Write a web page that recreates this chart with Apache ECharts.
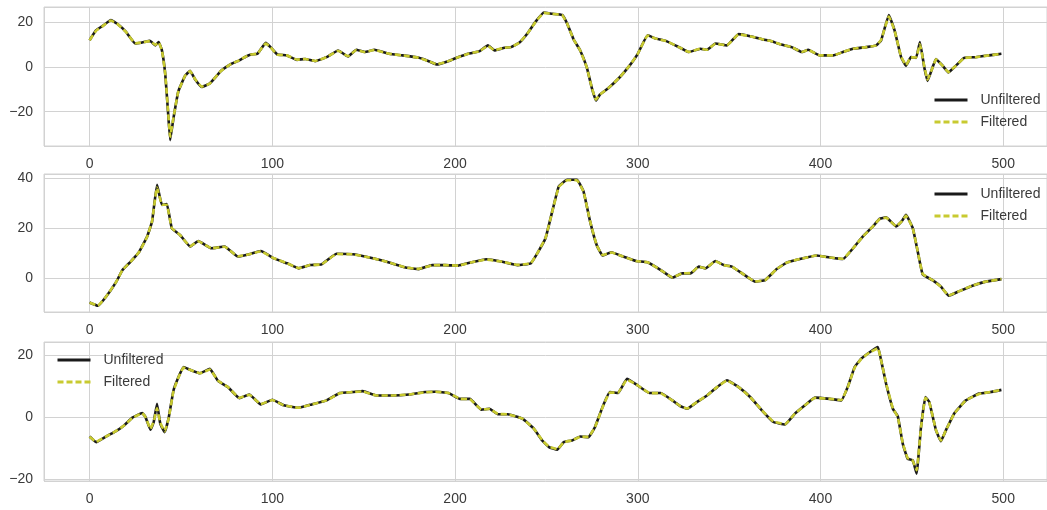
<!DOCTYPE html>
<html>
<head>
<meta charset="utf-8">
<script src="https://cdn.jsdelivr.net/npm/echarts@6/dist/echarts.min.js"></script>
<style>
html,body{margin:0;padding:0;background:#fff;}
#chart{width:1047px;height:510px;}
</style>
</head>
<body>
<div id="chart"></div>
<script>
// ---- data ([x, value] samples) ----
const xTicks = [0, 100, 200, 300, 400, 500];
const yTicks1 = [-20, 0, 20];
const yTicks2 = [0, 20, 40];
const yTicks3 = [-20, 0, 20];
const seriesNames = ['Unfiltered', 'Filtered'];

const unfiltered1 = [[0,12],[3.6,16.5],[7,18.3],[11.7,21],[15.3,19.2],[19.8,15.8],[25,10.5],[28.8,11],[33,11.7],[36,9.7],[37.8,11.2],[39.6,7.4],[41.4,-3.2],[42.9,-19.8],[44.1,-32.7],[45.9,-22.9],[48.6,-10.8],[52.3,-3.9],[55,-1.7],[57.7,-5.5],[61.3,-8.9],[65.8,-7.4],[72,-1.7],[77.5,1.4],[81,2.6],[85.6,4.7],[88.3,5.6],[91.9,5.9],[96.4,10.8],[99,8.9],[102.7,5.6],[108,5.2],[113.5,3.2],[118,3.6],[123.4,2.6],[129.7,4.4],[136,7.4],[141.4,4.7],[146,7.7],[150.5,6.7],[155.9,7.7],[164,5.9],[171.2,5.2],[180.2,4.1],[185.6,2.6],[190.1,1.1],[194.6,2.1],[200.9,4.1],[207.2,5.9],[213.5,7.1],[218,9.7],[221.6,7.4],[227,8.6],[230.6,8.9],[235.1,10.8],[239.6,15],[244.1,20.3],[248.6,24.4],[253.2,23.8],[258.6,23.3],[261.3,19.5],[264.9,12.3],[268.5,7.4],[272.1,-0.2],[274.8,-9.2],[277.1,-15],[279.3,-12.3],[283.8,-9.5],[290,-4.7],[295.5,0.6],[300,5.9],[305.4,14.2],[309.9,12.7],[315.3,11.7],[322.5,8.9],[328,6.7],[334.3,8.2],[337.9,7.7],[342.5,10.5],[348.8,9.7],[355.2,14.7],[361.5,13.8],[368.8,12.3],[372.4,11.7],[377.9,10.2],[384.2,8.9],[389.7,6.7],[393.3,7.7],[399.6,5.2],[406.9,5.2],[412.3,6.7],[417.8,8.2],[425,8.9],[430.5,9.7],[433.2,12],[437.4,23.3],[440.5,16.5],[444.1,4.4],[446.8,0.6],[449.5,4.4],[452.3,4.1],[454.4,11.2],[456.8,-0.2],[458.6,-6.2],[461.3,-0.2],[463.2,3.6],[466.8,0.6],[470,-2.4],[474.1,0.6],[478.6,4.1],[485,4.4],[492.2,5.2],[499,5.9]];
const filtered1 = [[0,12],[3.6,16.3],[7,18.2],[11.7,20.8],[15.3,19.2],[19.8,15.8],[25,10.6],[28.8,11],[33,11.6],[36,9.9],[37.8,11],[39.6,7.4],[41.4,-3],[42.9,-19.2],[44.1,-31.2],[45.9,-22.6],[48.6,-10.8],[52.3,-3.9],[55,-1.8],[57.7,-5.4],[61.3,-8.8],[65.8,-7.4],[72,-1.7],[77.5,1.4],[81,2.6],[85.6,4.7],[88.3,5.6],[91.9,6],[96.4,10.5],[99,8.9],[102.7,5.6],[108,5.2],[113.5,3.3],[118,3.6],[123.4,2.7],[129.7,4.4],[136,7.3],[141.4,4.8],[146,7.6],[150.5,6.7],[155.9,7.6],[164,5.9],[171.2,5.2],[180.2,4.1],[185.6,2.6],[190.1,1.2],[194.6,2.1],[200.9,4.1],[207.2,5.9],[213.5,7.1],[218,9.5],[221.6,7.5],[227,8.6],[230.6,8.9],[235.1,10.8],[239.6,15],[244.1,20.2],[248.6,24.2],[253.2,23.8],[258.6,23.2],[261.3,19.5],[264.9,12.3],[268.5,7.4],[272.1,-0.2],[274.8,-9.1],[277.1,-14.6],[279.3,-12.3],[283.8,-9.5],[290,-4.7],[295.5,0.6],[300,5.9],[305.4,14.1],[309.9,12.7],[315.3,11.7],[322.5,8.9],[328,6.7],[334.3,8.2],[337.9,7.7],[342.5,10.4],[348.8,9.7],[355.2,14.6],[361.5,13.8],[368.8,12.3],[372.4,11.7],[377.9,10.2],[384.2,8.9],[389.7,6.8],[393.3,7.6],[399.6,5.2],[406.9,5.2],[412.3,6.7],[417.8,8.2],[425,8.9],[430.5,9.7],[433.2,12.2],[437.4,22.6],[440.5,16.4],[444.1,4.6],[446.8,0.9],[449.5,4.3],[452.3,4.3],[454.4,10.2],[456.8,0.2],[458.6,-5.6],[461.3,-0.3],[463.2,3.4],[466.8,0.6],[470,-2.3],[474.1,0.6],[478.6,4],[485,4.4],[492.2,5.2],[499,5.9]];

const unfiltered2 = [[0,-9.6],[4.5,-10.9],[9,-7.3],[14.4,-1.6],[18,3.3],[22.5,6.7],[27,10.4],[31.5,16.7],[34.2,22.7],[36.9,37.3],[39.6,29.3],[42.3,29.6],[45,20],[49.5,17.3],[55,12.7],[59.5,14.9],[66.7,12],[73.9,12.7],[81.1,8.7],[87.4,9.6],[93.7,10.9],[100.9,8],[108.1,6],[114.4,4],[120.7,5.3],[127,5.6],[135.1,9.8],[144.1,9.6],[153.2,8.3],[162.2,6.7],[173,4.3],[180.2,3.7],[187.4,5.3],[194.6,5.3],[201.8,5.1],[209,6.4],[217.1,7.6],[225.2,6.7],[234.2,5.3],[241.4,6],[245,10],[249.5,16],[253.2,26.7],[256.8,36.7],[261.3,39.3],[266.7,39.3],[270.3,34.7],[273.9,22.7],[277.5,13.3],[280.7,9.1],[285.6,10.4],[291.9,8.7],[299.1,6.9],[305.4,6.4],[312.6,3.3],[318.9,0.3],[324.3,2],[328.9,2],[333.4,4.7],[337,4],[342.5,6.9],[347,5.3],[351.5,4.7],[357.9,1.6],[364.2,-1.3],[369.7,-0.7],[376,3.7],[381.5,6.3],[388.7,7.7],[397.8,9.1],[405.1,8.3],[412.3,7.7],[417.8,12],[423.2,16.7],[428.7,20.7],[432.3,23.7],[435.9,24.3],[441.4,20.7],[444.6,22.9],[446.8,25.3],[450.5,20],[453.2,10.7],[455.9,1.6],[461.3,-0.7],[465.9,-3.3],[470.1,-6.9],[475.9,-5.1],[483.1,-2.9],[490.4,-1.3],[499,-0.3]];
const filtered2 = [[0,-9.7],[4.5,-10.8],[9,-7.3],[14.4,-1.6],[18,3.3],[22.5,6.7],[27,10.4],[31.5,16.6],[34.2,22.9],[36.9,36.2],[39.6,29.4],[42.3,29.3],[45,20.1],[49.5,17.3],[55,12.8],[59.5,14.8],[66.7,12],[73.9,12.6],[81.1,8.8],[87.4,9.6],[93.7,10.8],[100.9,8],[108.1,6],[114.4,4.1],[120.7,5.3],[127,5.6],[135.1,9.7],[144.1,9.6],[153.2,8.3],[162.2,6.7],[173,4.3],[180.2,3.8],[187.4,5.2],[194.6,5.3],[201.8,5.1],[209,6.4],[217.1,7.5],[225.2,6.7],[234.2,5.4],[241.4,6],[245,10],[249.5,16.1],[253.2,26.6],[256.8,36.5],[261.3,39.1],[266.7,39.1],[270.3,34.6],[273.9,22.8],[277.5,13.3],[280.7,9.3],[285.6,10.3],[291.9,8.7],[299.1,6.9],[305.4,6.4],[312.6,3.3],[318.9,0.4],[324.3,2],[328.9,2.1],[333.4,4.6],[337,4.1],[342.5,6.8],[347,5.3],[351.5,4.7],[357.9,1.6],[364.2,-1.2],[369.7,-0.7],[376,3.7],[381.5,6.3],[388.7,7.7],[397.8,9.1],[405.1,8.3],[412.3,7.8],[417.8,12],[423.2,16.7],[428.7,20.7],[432.3,23.6],[435.9,24.2],[441.4,20.8],[444.6,22.8],[446.8,25],[450.5,20],[453.2,10.8],[455.9,1.8],[461.3,-0.7],[465.9,-3.3],[470.1,-6.8],[475.9,-5.1],[483.1,-2.9],[490.4,-1.3],[499,-0.3]];

const unfiltered3 = [[0,-6.3],[3.6,-8.1],[9,-6.3],[13.5,-4.9],[18.9,-2.7],[23.4,-0.2],[28.8,1.3],[30.6,0],[33.3,-4.1],[35.1,-1.6],[36.9,4.3],[38.7,-2.2],[41.1,-4.9],[43.2,-0.5],[45.9,8.6],[48.6,12.9],[51.4,16.2],[55,15.3],[60.4,14.2],[65.8,15.6],[70.3,11.7],[75.7,9.7],[82,6.1],[87.4,7.3],[93.7,4.1],[100,5.6],[106.3,3.8],[114.4,3],[121.6,4.1],[129.7,5.4],[136.9,7.8],[144.1,8.1],[149.5,8.4],[156.8,7],[165.8,7],[174.8,7.3],[183.8,8.1],[189.2,8.2],[196.4,7.8],[202.7,5.9],[208.1,5.9],[214.4,2.4],[218.9,2.7],[223.4,0.9],[228.8,0.9],[236.9,-0.5],[243.2,-3.8],[247.7,-7.6],[251.4,-9.7],[255.9,-10.6],[259.5,-8.1],[264,-7.6],[268.5,-6.3],[273,-6.5],[276.6,-3.2],[281.1,3.8],[284.7,8.1],[289.2,7.8],[294.1,12.4],[299.1,10.6],[306.3,7.8],[312.6,7.8],[318.9,5.4],[323.4,3.5],[327,2.7],[332.5,4.9],[337.9,7],[343.4,9.7],[348.8,11.9],[355.2,9.7],[361.5,6.5],[367.9,2.2],[374.2,-1.6],[380.6,-2.4],[386,1.1],[391.5,3.8],[396.9,6.3],[405.1,5.9],[411.4,5.4],[415,9.9],[418.7,16.2],[422.3,18.9],[426.9,21],[431.4,22.7],[433.2,18.3],[435.9,10.8],[439.6,2.7],[442.3,0.2],[445,-8.6],[447.7,-13.5],[450.5,-14],[452.6,-18.3],[455,-3.2],[457.4,6.5],[459.5,4.9],[463.2,-4.3],[465.9,-7.8],[468.6,-4.3],[473.1,1.1],[479.5,5.4],[486.8,7.6],[493.1,8.1],[499,8.8]];
const filtered3 = [[0,-6.4],[3.6,-8],[9,-6.3],[13.5,-4.9],[18.9,-2.7],[23.4,-0.3],[28.8,1.2],[30.6,0],[33.3,-3.8],[35.1,-1.4],[36.9,2.8],[38.7,-1.9],[41.1,-4.6],[43.2,-0.6],[45.9,8.4],[48.6,12.8],[51.4,16],[55,15.3],[60.4,14.2],[65.8,15.4],[70.3,11.8],[75.7,9.7],[82,6.2],[87.4,7.2],[93.7,4.2],[100,5.5],[106.3,3.8],[114.4,3],[121.6,4.1],[129.7,5.4],[136.9,7.7],[144.1,8.1],[149.5,8.3],[156.8,7],[165.8,7],[174.8,7.3],[183.8,8],[189.2,8.2],[196.4,7.8],[202.7,5.9],[208.1,5.8],[214.4,2.5],[218.9,2.6],[223.4,1],[228.8,0.9],[236.9,-0.5],[243.2,-3.8],[247.7,-7.5],[251.4,-9.6],[255.9,-10.4],[259.5,-8.2],[264,-7.5],[268.5,-6.4],[273,-6.4],[276.6,-3.2],[281.1,3.7],[284.7,7.9],[289.2,7.9],[294.1,12.1],[299.1,10.6],[306.3,7.8],[312.6,7.7],[318.9,5.4],[323.4,3.5],[327,2.8],[332.5,4.9],[337.9,7],[343.4,9.7],[348.8,11.8],[355.2,9.7],[361.5,6.5],[367.9,2.2],[374.2,-1.5],[380.6,-2.3],[386,1.1],[391.5,3.8],[396.9,6.2],[405.1,5.9],[411.4,5.5],[415,9.8],[418.7,16],[422.3,18.8],[426.9,20.9],[431.4,22.3],[433.2,18.3],[435.9,10.9],[439.6,2.8],[442.3,0],[445,-8.4],[447.7,-13.3],[450.5,-14.2],[452.6,-17.2],[455,-3.4],[457.4,6.2],[459.5,4.8],[463.2,-4.2],[465.9,-7.6],[468.6,-4.3],[473.1,1],[479.5,5.4],[486.8,7.5],[493.1,8.1],[499,8.8]];

// ---- chart ----
const FONT = '"Liberation Sans", Arial, sans-serif';
const TXT = '#3a3a3a';
const GRIDC = '#d2d2d2';
const BLACK = '#1a1a1a';
const YELLOW = '#c8ca30';

const grids = [
  {left: 44, right: -12, top: 7, height: 139},
  {left: 44, right: -12, top: 174, height: 138},
  {left: 44, right: -12, top: 342, height: 139}
];
const yRanges = [[-35.35, 26.85], [-13.4, 41.6], [-20.7, 24.3]];
const yTickSets = [yTicks1, yTicks2, yTicks3];

function xAxisFor(i) {
  return {
    type: 'value', gridIndex: i, min: -24.95, max: 523.95,
    minInterval: 100, maxInterval: 100,
    axisLine: {show: false}, axisTick: {show: false},
    axisLabel: {
      color: TXT, fontSize: 14, fontFamily: FONT, margin: 11,
      showMinLabel: false, showMaxLabel: false,
      formatter: v => xTicks.indexOf(v) >= 0 ? String(v) : ''
    },
    splitLine: {show: true, lineStyle: {color: GRIDC, width: 1}}
  };
}
function yAxisFor(i) {
  const ticks = yTickSets[i];
  return {
    type: 'value', gridIndex: i, min: yRanges[i][0], max: yRanges[i][1],
    minInterval: 20, maxInterval: 20,
    axisLine: {show: false}, axisTick: {show: false},
    axisLabel: {
      color: TXT, fontSize: 14, fontFamily: FONT, margin: 11,
      showMinLabel: false, showMaxLabel: false,
      formatter: v => ticks.indexOf(v) >= 0 ? String(v).replace('-', '\u2212') : ''
    },
    splitLine: {show: true, lineStyle: {color: GRIDC, width: 1}}
  };
}
function lineSeries(name, data, i, dashed) {
  return {
    name: name, type: 'line', xAxisIndex: i, yAxisIndex: i,
    data: data, symbol: 'none', showSymbol: false, smooth: 0.1,
    animation: false,
    lineStyle: dashed
      ? {color: YELLOW, width: 2.6, type: [6, 3]}
      : {color: BLACK, width: 2.6},
    itemStyle: {color: dashed ? YELLOW : BLACK},
    z: dashed ? 3 : 2
  };
}
function legendFor(pos) {
  return Object.assign({
    orient: 'vertical', data: seriesNames,
    itemWidth: 33, itemHeight: 14, itemGap: 8,
    selectedMode: false, padding: 0,
    itemStyle: {opacity: 0},
    lineStyle: {width: 3},
    textStyle: {color: TXT, fontSize: 14, fontFamily: FONT, padding: [0, 0, 0, 8]}
  }, pos);
}

const chart = echarts.init(document.getElementById('chart'), null, {renderer: 'canvas'});
chart.setOption({
  backgroundColor: '#ffffff',
  animation: false,
  grid: grids.map(g => Object.assign({show: true, borderColor: GRIDC, borderWidth: 1, backgroundColor: 'transparent'}, g)),
  xAxis: [0, 1, 2].map(xAxisFor),
  yAxis: [0, 1, 2].map(yAxisFor),
  legend: [
    legendFor({left: 933, top: 93}),
    legendFor({left: 933, top: 187}),
    legendFor({left: 56, top: 353})
  ],
  series: [
    lineSeries('Unfiltered', unfiltered1, 0, false),
    lineSeries('Filtered', filtered1, 0, true),
    lineSeries('Unfiltered', unfiltered2, 1, false),
    lineSeries('Filtered', filtered2, 1, true),
    lineSeries('Unfiltered', unfiltered3, 2, false),
    lineSeries('Filtered', filtered3, 2, true)
  ]
});
</script>
</body>
</html>
